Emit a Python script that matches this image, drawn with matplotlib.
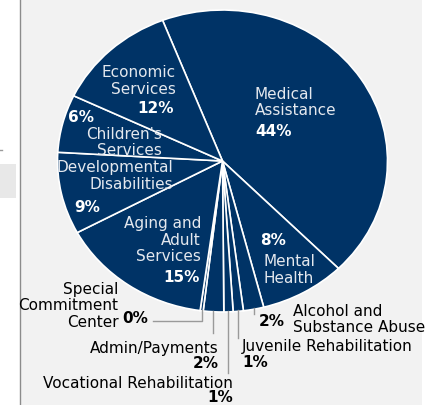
import matplotlib
matplotlib.use("Agg")
import matplotlib.pyplot as plt
import numpy as np
from matplotlib.patches import Rectangle

# Budget shares, listed clockwise starting from Medical Assistance
categories = ["Medical Assistance", "Mental Health", "Alcohol and Substance Abuse",
              "Juvenile Rehabilitation", "Vocational Rehabilitation", "Admin/Payments",
              "Special Commitment Center", "Aging and Adult Services",
              "Developmental Disabilities", "Children's Services", "Economic Services"]
shares = [43.6, 8.4, 2.0, 1.0, 0.9, 2.0, 0.3, 15.0, 8.8, 6.2, 12.0]

NAVY = "#003366"
PANEL = "#f2f2f2"
LEADER = "#9a9a9a"
INNER_TXT = "#e4e8ee"

W, H = 434, 405
# pie centre and radii in pixels (the pie is a bit wider than tall)
CX, CY, RX, RY = 222.5, 161.0, 165.0, 151.0

fig = plt.figure(figsize=(W / 100, H / 100), dpi=100)
fig.patch.set_facecolor("white")

# background panel
bg = fig.add_axes([0, 0, 1, 1])
bg.set_xlim(0, W)
bg.set_ylim(H, 0)
bg.axis("off")
bg.add_patch(Rectangle((19.5, 0), 402, H, facecolor=PANEL, edgecolor="none"))
bg.plot([19.5, 19.5], [0, H], color="#8c8c8c", lw=1.0)
bg.add_patch(Rectangle((0, 163.5), 15.5, 34, facecolor="#e8e8e8", edgecolor="none"))
bg.plot([0, 1.5], [150, 150], color="#9a9a9a", lw=1.0)

# the pie itself
pax = fig.add_axes([(CX - RX) / W, (H - CY - RY) / H, 2 * RX / W, 2 * RY / H])
pax.patch.set_alpha(0)
wedges, _ = pax.pie(shares, colors=[NAVY] * len(shares), startangle=111.3,
                    counterclock=False, radius=1.0,
                    wedgeprops=dict(edgecolor="white", linewidth=1.2))
pax.set_aspect("auto")
pax.set_xlim(-1, 1)
pax.set_ylim(-1, 1)
pax.axis("off")

# labels and leader lines in pixel coordinates
tx = fig.add_axes([0, 0, 1, 1])
tx.set_xlim(0, W)
tx.set_ylim(H, 0)
tx.patch.set_alpha(0)
tx.axis("off")

FS = 11
PITCH = 16.6


def pct(i):
    return f"{round(shares[i])}%"


def put(x, y, lines, ha="left", color="black", bold=False, size=FS):
    for k, line in enumerate(lines):
        tx.text(x, y + k * PITCH + 5.5, line, ha=ha, va="baseline", color=color,
                fontsize=size, fontweight="bold" if bold else "normal",
                family="DejaVu Sans")


def rim_point(i):
    w = wedges[i]
    a = np.radians((w.theta1 + w.theta2) / 2)
    return CX + RX * np.cos(a), CY - RY * np.sin(a)


# labels inside the pie
put(255, 93.3, ["Medical", "Assistance"], color=INNER_TXT)
put(255, 130, [pct(0)], color="white", bold=True)
put(260, 239.3, [pct(1)], color="white", bold=True)
put(263.3, 260.7, ["Mental", "Health"], color=INNER_TXT)
put(201, 222.7, ["Aging and", "Adult", "Services"], ha="right", color=INNER_TXT)
put(200, 276.7, [pct(7)], ha="right", color="white", bold=True)
put(173.3, 166.7, ["Developmental", "Disabilities"], ha="right", color=INNER_TXT)
put(74, 206.7, [pct(8)], color="white", bold=True)
put(68.3, 116, [pct(9)], color="white", bold=True)
put(162, 133.3, ["Children's", "Services"], ha="right", color=INNER_TXT)
put(175.7, 71.7, ["Economic", "Services"], ha="right", color=INNER_TXT)
put(174, 107.3, [pct(10)], ha="right", color="white", bold=True)

# small slices labelled outside with leader lines
x, y = rim_point(6)
tx.plot([x, x, 153], [y - 1, 321, 321], color=LEADER, lw=1.0)
put(118.3, 288.3, ["Special", "Commitment", "Center"], ha="right")
put(122.7, 317.7, [pct(6)], bold=True)

x, y = rim_point(5)
tx.plot([x, x], [y - 1, 333], color=LEADER, lw=1.0)
put(219, 347.0, ["Admin/Payments"], ha="right")
put(219, 362.5, [pct(5)], ha="right", bold=True)

x, y = rim_point(4)
tx.plot([x, x], [y - 1, 373], color=LEADER, lw=1.0)
put(233.3, 382.0, ["Vocational Rehabilitation"], ha="right")
put(233.3, 397.0, [pct(4)], ha="right", bold=True)

x, y = rim_point(3)
tx.plot([x, x], [y - 1, 337.7], color=LEADER, lw=1.0)
put(242.3, 346.0, ["Juvenile Rehabilitation"])
put(242.3, 361.5, [pct(3)], bold=True)

x, y = rim_point(2)
tx.plot([x, x], [y - 1, 314], color=LEADER, lw=1.0)
put(258.3, 321, [pct(2)], bold=True)
put(292.7, 310, ["Alcohol and", "Substance Abuse"])

fig.savefig("out.png", dpi=100, facecolor=fig.get_facecolor())
